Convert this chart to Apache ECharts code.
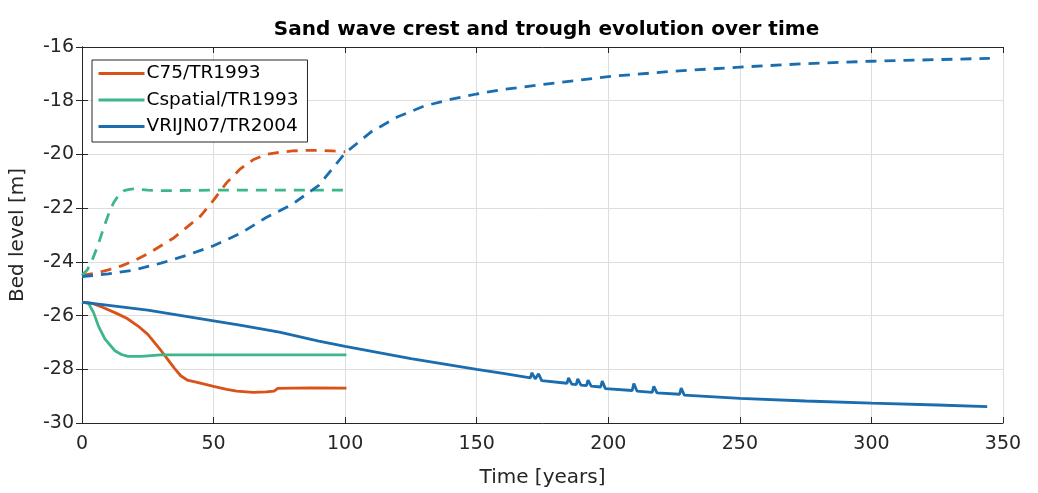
<!DOCTYPE html>
<html>
<head>
<meta charset="utf-8">
<script src="https://cdn.jsdelivr.net/npm/echarts@6/dist/echarts.min.js"></script>
<style>html,body{margin:0;padding:0;background:#fff;}#chart{width:1038px;height:493px;}</style>
</head>
<body>
<div id="chart"></div>
<script>
// ---- data ----
const xTicks = [0, 50, 100, 150, 200, 250, 300, 350];
const yTicks = [-30, -28, -26, -24, -22, -20, -18, -16];
const seriesNames = ['C75/TR1993', 'Cspatial/TR1993', 'VRIJN07/TR2004'];

// C75/TR1993 trough (solid) and crest (dashed)
const c75TroughT = [0, 4, 8, 12.5, 17, 21.3, 25, 27.5, 30, 32.5, 35, 37.5, 40, 43.8, 50, 55, 58.8, 65, 70, 73, 74.4, 80, 87.5, 100.5];
const c75TroughV = [-25.5, -25.55, -25.7, -25.89, -26.1, -26.39, -26.7, -27.0, -27.3, -27.62, -27.95, -28.24, -28.4, -28.49, -28.64, -28.75, -28.81, -28.86, -28.84, -28.81, -28.71, -28.7, -28.69, -28.7];
const c75CrestT = [0, 5, 10, 15, 20, 25, 30, 35, 40, 45, 50, 55, 60, 65, 70, 75, 80, 85, 90, 95, 100];
const c75CrestV = [-24.5, -24.42, -24.3, -24.15, -23.95, -23.7, -23.4, -23.1, -22.7, -22.3, -21.7, -21.05, -20.55, -20.2, -20.0, -19.92, -19.87, -19.85, -19.85, -19.87, -19.9];

// Cspatial/TR1993 trough (solid) and crest (dashed)
const cspTroughT = [0, 2.5, 4.4, 6.25, 8.75, 12.5, 15, 17.5, 22.5, 30, 50, 75, 100.5];
const cspTroughV = [-25.5, -25.55, -25.89, -26.39, -26.88, -27.31, -27.45, -27.52, -27.52, -27.46, -27.46, -27.46, -27.46];
const cspCrestT = [0, 2, 4, 6, 8, 10, 12, 14, 16, 18, 20, 25, 30, 50, 75, 100];
const cspCrestV = [-24.5, -24.3, -23.9, -23.4, -22.8, -22.25, -21.8, -21.5, -21.35, -21.3, -21.28, -21.33, -21.35, -21.33, -21.33, -21.33];

// VRIJN07/TR2004 trough (solid) and crest (dashed)
const vrTroughT = [0, 25, 50, 60, 75, 90, 100, 125, 150, 160, 170.4,
  171.0, 171.6, 172.2, 172.9, 173.5, 174.1, 174.7,
  184.3, 184.9, 185.5, 186.1, 187.8, 188.4, 189.0, 189.6,
  191.7, 192.3, 192.9, 193.5, 197.1, 197.7, 198.3, 198.9,
  209.1, 209.7, 210.3, 210.9, 216.7, 217.3, 217.9, 218.5,
  227.1, 227.7, 228.3, 228.9, 250, 275, 300, 325, 344];
const vrTroughV = [-25.5, -25.8, -26.2, -26.36, -26.62, -26.95, -27.15, -27.6, -28.0, -28.15, -28.32,
  -28.13, -28.13, -28.36, -28.38, -28.17, -28.17, -28.42,
  -28.52, -28.32, -28.32, -28.55, -28.57, -28.36, -28.36, -28.59,
  -28.61, -28.4, -28.4, -28.63, -28.66, -28.44, -28.44, -28.72,
  -28.79, -28.53, -28.53, -28.81, -28.86, -28.64, -28.64, -28.88,
  -28.93, -28.7, -28.7, -28.96, -29.08, -29.18, -29.26, -29.33, -29.39];
const vrCrestT = [0, 10, 20, 30, 40, 50, 60, 70, 80, 90, 100, 110, 120, 130, 140, 150, 160, 175, 200, 225, 250, 275, 300, 325, 345];
const vrCrestV = [-24.55, -24.45, -24.3, -24.05, -23.75, -23.4, -22.95, -22.35, -21.85, -21.15, -19.95, -19.15, -18.6, -18.2, -17.95, -17.75, -17.58, -17.4, -17.1, -16.9, -16.75, -16.62, -16.53, -16.47, -16.42];

// ---- chart ----
const FONT = 'DejaVu Sans';
const TXT = '#262626';
const COLORS = ['#D95319', '#3DB68A', '#1A6DAF'];
const zip = (t, v) => t.map((x, i) => [x, v[i]]);

function lineSeries(name, data, color, dashed) {
  return {
    name: name, type: 'line', data: data, symbol: 'none', smooth: false,
    xAxisIndex: 0, yAxisIndex: 0,
    lineStyle: { color: color, width: 2.8, type: dashed ? [11, 8] : 'solid' },
    itemStyle: { color: color },
    emphasis: { disabled: true }, animation: false
  };
}

const chart = echarts.init(document.getElementById('chart'), null, { renderer: 'canvas' });
const axisLineStyle = { color: TXT, width: 1 };
chart.setOption({
  animation: false,
  backgroundColor: '#ffffff',
  textStyle: { fontFamily: FONT },
  title: {
    text: 'Sand wave crest and trough evolution over time',
    left: 541.5, textAlign: 'center', top: 15,
    textStyle: { fontFamily: FONT, fontSize: 20, fontWeight: 'bold', color: '#000' }
  },
  legend: {
    orient: 'vertical', left: 92, top: 60,
    data: seriesNames,
    itemWidth: 46, itemHeight: 18, itemGap: 7.5,
    padding: [4, 9, 6, 5],
    itemStyle: { opacity: 0 },
    lineStyle: { width: 3 },
    backgroundColor: '#fff', borderColor: '#262626', borderWidth: 1,
    textStyle: { fontFamily: FONT, fontSize: 18.5, color: '#000', padding: [0, 0, 0, -3] }
  },
  grid: { left: 80, right: 35, top: 47, bottom: 69, containLabel: false },
  xAxis: [{
    type: 'value', min: xTicks[0], max: xTicks[xTicks.length - 1], interval: 50,
    name: 'Time [years]', nameLocation: 'middle', nameGap: 45,
    nameTextStyle: { fontFamily: FONT, fontSize: 20, color: TXT },
    axisLine: { show: true, lineStyle: axisLineStyle },
    axisTick: { show: true, inside: true, length: 6, lineStyle: axisLineStyle },
    axisLabel: { fontFamily: FONT, fontSize: 19, color: TXT, margin: 12 },
    splitLine: { show: true, lineStyle: { color: '#dedede', width: 1 } }
  }, {
    type: 'value', position: 'top', min: xTicks[0], max: xTicks[xTicks.length - 1], interval: 50,
    axisLine: { show: true, lineStyle: axisLineStyle },
    axisTick: { show: true, inside: true, length: 6, lineStyle: axisLineStyle },
    axisLabel: { show: false }, splitLine: { show: false }
  }],
  yAxis: [{
    type: 'value', min: yTicks[0], max: yTicks[yTicks.length - 1], interval: 2,
    name: 'Bed level [m]', nameLocation: 'middle', nameGap: 54, nameRotate: 90,
    nameTextStyle: { fontFamily: FONT, fontSize: 20, color: TXT },
    axisLine: { show: true, lineStyle: axisLineStyle },
    axisTick: { show: true, inside: true, length: 6, lineStyle: axisLineStyle },
    axisLabel: { fontFamily: FONT, fontSize: 19, color: TXT, margin: 8 },
    splitLine: { show: true, lineStyle: { color: '#dedede', width: 1 } }
  }, {
    type: 'value', position: 'right', min: yTicks[0], max: yTicks[yTicks.length - 1], interval: 2,
    axisLine: { show: true, lineStyle: axisLineStyle },
    axisTick: { show: true, inside: true, length: 6, lineStyle: axisLineStyle },
    axisLabel: { show: false }, splitLine: { show: false }
  }],
  series: [
    lineSeries(seriesNames[0], zip(c75TroughT, c75TroughV), COLORS[0], false),
    lineSeries(seriesNames[1], zip(cspTroughT, cspTroughV), COLORS[1], false),
    lineSeries(seriesNames[2], zip(vrTroughT, vrTroughV), COLORS[2], false),
    lineSeries(seriesNames[0] + ' crest', zip(c75CrestT, c75CrestV), COLORS[0], true),
    lineSeries(seriesNames[1] + ' crest', zip(cspCrestT, cspCrestV), COLORS[1], true),
    lineSeries(seriesNames[2] + ' crest', zip(vrCrestT, vrCrestV), COLORS[2], true)
  ]
});
</script>
</body>
</html>
